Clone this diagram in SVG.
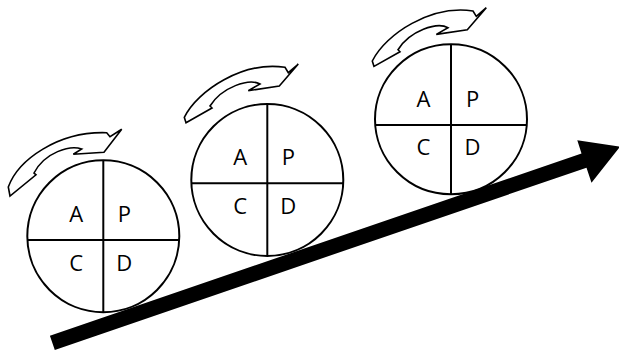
<svg xmlns="http://www.w3.org/2000/svg" width="619" height="351" viewBox="0 0 619 351">
<style>
.c{fill:#fff;stroke:#000;stroke-width:2}
.l{stroke:#000;stroke-width:2}
.t{font-family:"Open Sans","Noto Sans",sans-serif;font-size:22px;fill:#000;text-anchor:middle}
.ca{fill:#fff;stroke:#000;stroke-width:1.6;stroke-linejoin:miter}
</style>
<rect width="619" height="351" fill="#fff"/>
<g id="cycle1">
<path class="ca" d="M10,196 L8.3,187 C18,160 58,131 106.7,132.7 L110,136.7 L121.7,129.3 L104,152.3 L73.3,154.3 L81.7,149 C70,145 45,152 34,173 L36,174.8 Z"/>
<circle class="c" cx="103.3" cy="236.2" r="76"/>
<line class="l" x1="103.3" y1="160.2" x2="103.3" y2="312.2"/>
<line class="l" x1="27.5" y1="240" x2="179.1" y2="240"/>
<text class="t" x="76.3" y="222">A</text>
<text class="t" x="124.3" y="222">P</text>
<text class="t" x="76.3" y="270.5">C</text>
<text class="t" x="124.3" y="270.5">D</text>
</g>
<g id="cycle2">
<path class="ca" d="M186,122.7 L184.3,117.3 C198,90 243,61 285,67.3 L288.3,72.7 L298.3,64 L279.3,86 L248.3,90.7 L260,84 C249,78 222,87 210,106 L212,108 Z"/>
<circle class="c" cx="267.3" cy="180" r="76"/>
<line class="l" x1="267.3" y1="104" x2="267.3" y2="256"/>
<line class="l" x1="191.5" y1="183.3" x2="343.1" y2="183.3"/>
<text class="t" x="240.3" y="165.3">A</text>
<text class="t" x="288.3" y="165.3">P</text>
<text class="t" x="240.3" y="213.5">C</text>
<text class="t" x="288.3" y="213.5">D</text>
</g>
<g id="cycle3">
<path class="ca" transform="translate(188,-56.3)" d="M186,122.7 L184.3,117.3 C198,90 243,61 285,67.3 L288.3,72.7 L298.3,64 L279.3,86 L248.3,90.7 L260,84 C249,78 222,87 210,106 L212,108 Z"/>
<ellipse class="c" cx="451" cy="119.2" rx="76" ry="75"/>
<line class="l" x1="451" y1="44.2" x2="451" y2="194.2"/>
<line class="l" x1="375.2" y1="125" x2="526.8" y2="125"/>
<text class="t" x="423.5" y="107">A</text>
<text class="t" x="472.5" y="107">P</text>
<text class="t" x="423.5" y="155">C</text>
<text class="t" x="472.5" y="155">D</text>
</g>
<g id="connectors">
<polygon fill="#000" points="54.8,349.9 49.9,335.7 581.5,153.5 577.3,140.3 620,146.7 591.5,182.8 586.5,167.7"/>
</g>
</svg>
